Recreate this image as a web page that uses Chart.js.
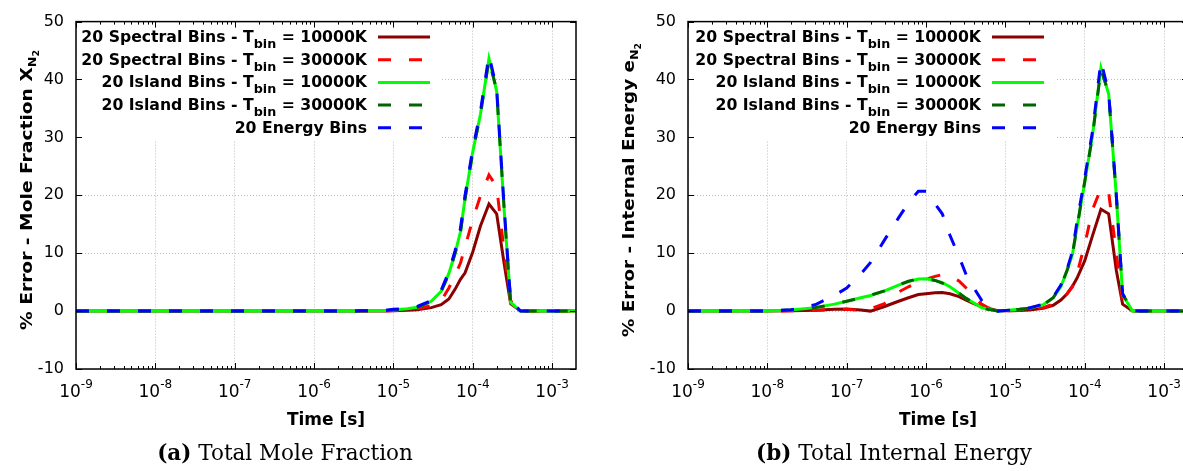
<!DOCTYPE html>
<html>
<head>
<meta charset="utf-8">
<script src="https://cdn.jsdelivr.net/npm/chart.js@4.4.1/dist/chart.umd.min.js"></script>
<style>
html,body{margin:0;padding:0;background:#fff;overflow:hidden}
body{width:1183px;height:471px;position:relative}
canvas{position:absolute;top:0}
</style>
</head>
<body>
<canvas id="moleChart" width="600" height="471" style="left:0"></canvas>
<canvas id="energyChart" width="600" height="471" style="left:600px"></canvas>
<script>
// output times [s], shared by every curve
const times=[1e-9,1e-8,2e-8,4e-8,7e-8,1e-7,1.5e-7,2e-7,3e-7,4.5e-7,6e-7,8e-7,1e-6,1.3e-6,1.6e-6,2e-6,2.6e-6,3.2e-6,4e-6,5e-6,6e-6,8e-6,
  1e-5,1.5e-5,2e-5,3e-5,4e-5,5e-5,6e-5,7e-5,8e-5,1e-4,1.25e-4,1.6e-4,2e-4,2.5e-4,3e-4,4e-4,5e-4,1e-3,2e-3]
const decades=[1e-9,1e-8,1e-7,1e-6,1e-5,1e-4,1e-3]
const yTicks=[-10,0,10,20,30,40,50]
const seriesLabels=['20 Spectral Bins - T_bin = 10000K','20 Spectral Bins - T_bin = 30000K','20 Island Bins - T_bin = 10000K','20 Island Bins - T_bin = 30000K','20 Energy Bins']
const colors=['#8b0000','#ff0000','#00ff00','#006400','#0000ff']
const dashes=[[],[13,18],[],[13,18],[13,18]]

// (a) % error, mole fraction
const moleSpec10k=[0,0,0,0,0,0,0,0,0,0, 0,0,0,0,0,0,0,0,0.01,0.01, 0.02,0.03, 0.05,0.15,0.25,0.6,1.1,2.1,3.8,5.5,6.6,10.2,14.7,18.5,16.8,8,1.3,0,0,0,0]
const moleSpec30k=[0,0,0,0,0,0,0,0,0,0, 0,0,0,0,0,0,0,0,0.01,0.02, 0.03,0.05, 0.1,0.25,0.4,0.95,1.8,4.0,6.2,8.3,11.1,15.8,19.9,23.5,21.5,10,1.8,0,0,0,0]
const moleIsl10k=[0,0,0,0,0,0,0,0,0,0, 0,0,0,0,0,0,0,0.02,0.04,0.06, 0.08,0.12, 0.2,0.4,0.65,1.7,3.4,6.5,10,13.7,19.5,27.5,34,43.6,38,17,1.5,0,0,0,0]
const moleIsl30k=[0,0,0,0,0,0,0,0,0,0, 0,0,0,0,0,0,0,0.02,0.04,0.06, 0.08,0.12, 0.2,0.4,0.65,1.7,3.4,6.4,10,13.6,19.4,27.4,34,43.4,38.2,17.2,1.6,0,0,0,0]
const moleEnergy=[0,0,0,0,0,0,0,0,0,0, 0,0,0,0,0,0,0,0.02,0.05,0.08, 0.1,0.15, 0.3,0.5,0.8,1.8,3.6,6.8,10.5,14.3,20,28,34.5,44.2,38.5,17.5,1.8,0,0,0,0]

// (b) % error, internal energy
const enSpec10k=[0,0,0.05,0.15,0.3,0.35,0.2,0,0.8,1.7,2.3,2.85,3.0,3.15,3.2,3.0,2.5,1.9,1.3,0.8,0.5,0.05, 0.05,0.1,0.2,0.5,1.0,1.9,3.0,4.3,5.7,8.7,13,17.6,16.8,7,1.2,0,0,0,0]
const enSpec30k=[0,0,0.05,0.1,0.25,0.3,0.1,0.4,1.3,3.3,4.2,5.0,5.5,6.0,6.3,6.1,5.2,4.0,2.5,1.2,0.6,0.05, 0.05,0.1,0.2,0.6,1.2,2.0,3.0,4.2,6.5,11.5,17.5,21.2,20.5,10,1.5,0,0,0,0]
const enIsl10k=[0,0,0.2,0.6,1.2,1.7,2.3,2.7,3.5,4.5,5.1,5.55,5.6,5.3,4.9,4.2,3.1,2.2,1.4,0.6,0.35,0, 0.1,0.3,0.5,1.1,2.3,4.2,7,9.8,14.5,22.3,30.3,42,37.5,19.8,2.8,0,0,0,0]
const enIsl30k=[0,0,0.2,0.6,1.2,1.7,2.3,2.75,3.5,4.5,5.15,5.6,5.6,5.3,4.85,4.2,3.1,2.2,1.4,0.6,0.3,0, 0.1,0.3,0.5,1.1,2.3,4.3,7.1,9.9,14.6,22.4,30.2,41.8,37.6,19.9,2.9,0.1,0,0,0]
const enEnergy=[0,0,0.25,1.1,2.7,4.0,6.4,8.4,12.3,16.1,18.7,20.7,20.7,18.5,16.8,13.1,9.4,6.3,4.0,1.9,1.0,0, 0.1,0.3,0.55,1.2,2.4,4.5,7.3,10.3,15.5,23,31,43.2,37.8,20,3,0.1,0,0,0]

const SANS='"DejaVu Sans", sans-serif'
const SERIF='"DejaVu Serif", serif'

function richWidth(ctx,segs){let w=0;for(const s of segs){ctx.font=s.f;w+=ctx.measureText(s.t).width}return w}
function drawRich(ctx,segs,x,y){for(const s of segs){ctx.font=s.f;ctx.fillText(s.t,x,y+(s.dy||0));x+=ctx.measureText(s.t).width}}

function legendSegs(label){
  const p=label.split('_bin')
  if(p.length<2) return [{t:label,f:'bold 15.7px '+SANS}]
  return [{t:p[0],f:'bold 15.7px '+SANS},{t:'bin',f:'bold 12.7px '+SANS,dy:6},{t:p[1],f:'bold 15.7px '+SANS}]
}

function decor(o){
  return {
    id:'decor',
    beforeDatasetsDraw(chart){
      // key box hides the grid under it
      const {ctx,chartArea:a}=chart
      ctx.save();ctx.fillStyle='#fff'
      ctx.fillRect(a.left+1,a.top+1,o.keyRight-a.left-1,140-a.top-1)
      ctx.restore()
    },
    afterDraw(chart){
      const {ctx,chartArea:a,scales:{x,y}}=chart
      ctx.save()
      ctx.strokeStyle='#000';ctx.lineWidth=1
      ctx.beginPath()
      decades.forEach(d=>{
        for(let m=1;m<10;m++){
          const v=d*m
          if(v>=2e-3) break
          const px=Math.round(x.getPixelForValue(v))+0.5,len=m==1?6:3
          ctx.moveTo(px,a.bottom);ctx.lineTo(px,a.bottom-len)
          ctx.moveTo(px,a.top);ctx.lineTo(px,a.top+len)
        }
      })
      yTicks.forEach(v=>{
        const py=Math.round(y.getPixelForValue(v))+0.5
        ctx.moveTo(a.left,py);ctx.lineTo(a.left+6,py)
        ctx.moveTo(a.right,py);ctx.lineTo(a.right-6,py)
      })
      ctx.stroke()
      ctx.lineWidth=1.5
      ctx.strokeRect(a.left,a.top,a.right-a.left,a.bottom-a.top)

      ctx.fillStyle='#000';ctx.textAlign='left';ctx.textBaseline='alphabetic'
      decades.forEach(d=>{
        const segs=[{t:'10',f:'17px '+SANS},{t:String(Math.round(Math.log10(d))),f:'12px '+SANS,dy:-9}]
        const px=x.getPixelForValue(d)
        drawRich(ctx,segs,px-richWidth(ctx,segs)/2,397)
      })
      ctx.font='bold 17px '+SANS;ctx.textAlign='center'
      ctx.fillText('Time [s]',(a.left+a.right)/2,425)
      ctx.textAlign='left'

      // y title, rotated and stretched along its length
      ctx.save()
      const w=richWidth(ctx,o.ytitle)
      ctx.translate(o.yTitleX,o.yTitleY);ctx.rotate(-Math.PI/2);ctx.scale(o.yTitleLen/w,1)
      drawRich(ctx,o.ytitle,-w/2,0)
      ctx.restore()

      // key
      seriesLabels.forEach((lab,i)=>{
        const ly=37+i*22.7
        const segs=legendSegs(lab)
        drawRich(ctx,segs,o.keyX-11-richWidth(ctx,segs),ly+5)
        ctx.strokeStyle=colors[i];ctx.lineWidth=3;ctx.setLineDash(dashes[i])
        ctx.beginPath();ctx.moveTo(o.keyX,ly);ctx.lineTo(o.keyX+52,ly);ctx.stroke()
        ctx.setLineDash([])
      })

      // caption
      ctx.fillStyle='#000'
      const cap=[{t:o.caption[0],f:'bold 21.5px '+SERIF},{t:' '+o.caption[1],f:'21.5px '+SERIF}]
      drawRich(ctx,cap,o.capX-richWidth(ctx,cap)/2,460)
      ctx.restore()
    }
  }
}

function makeChart(id,series,o){
  const ctx=document.getElementById(id)
  return new Chart(ctx,{
    type:'line',
    data:{
      datasets:series.map((d,i)=>({
        label:seriesLabels[i],
        data:d.map((v,k)=>({x:times[k],y:v})),
        borderColor:colors[i],borderDash:dashes[i],borderWidth:3,
        pointRadius:0,fill:false,tension:0,order:4-i
      }))
    },
    options:{
      responsive:false,animation:false,events:[],
      layout:{padding:{top:15,right:o.padRight,left:0,bottom:0}},
      plugins:{legend:{display:false},tooltip:{enabled:false}},
      scales:{
        x:{type:'logarithmic',min:1e-9,max:2e-3,
          afterBuildTicks:s=>{s.ticks=decades.map(v=>({value:v}))},
          afterFit:s=>{s.height=102},
          ticks:{display:false},
          grid:{color:'#bdbdbd',drawTicks:false},
          border:{display:false,dash:[1,2]}},
        y:{min:-10,max:50,
          afterBuildTicks:s=>{s.ticks=yTicks.map(v=>({value:v}))},
          afterFit:s=>{s.width=o.axisLeft},
          ticks:{color:'#000',font:{family:SANS,size:16},padding:12},
          grid:{color:'#bdbdbd',drawTicks:false},
          border:{display:false,dash:[1,2]}}
      }
    },
    plugins:[decor(o)]
  })
}

makeChart('moleChart',[moleSpec10k,moleSpec30k,moleIsl10k,moleIsl30k,moleEnergy],{
  axisLeft:76,padRight:24,keyX:378,keyRight:440,yTitleX:31.5,yTitleY:190,yTitleLen:280,capX:285,
  caption:['(a)','Total Mole Fraction'],
  ytitle:[{t:'% Error - Mole Fraction X',f:'bold 16px '+SANS},{t:'N',f:'bold 11px '+SANS,dy:4},{t:'2',f:'bold 8px '+SANS,dy:7}]
})
makeChart('energyChart',[enSpec10k,enSpec30k,enIsl10k,enIsl30k,enEnergy],{
  axisLeft:88,padRight:12,keyX:392,keyRight:456,yTitleX:33.5,yTitleY:190,yTitleLen:294,capX:294,
  caption:['(b)','Total Internal Energy'],
  ytitle:[{t:'% Error - Internal Energy e',f:'bold 16px '+SANS},{t:'N',f:'bold 11px '+SANS,dy:4},{t:'2',f:'bold 8px '+SANS,dy:7}]
})
</script>
</body>
</html>
